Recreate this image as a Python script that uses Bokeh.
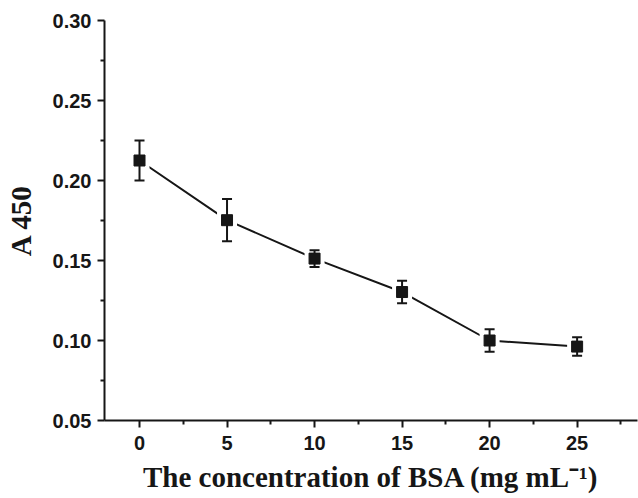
from bokeh.plotting import figure
from bokeh.models import ColumnDataSource, FixedTicker, NumeralTickFormatter, Range1d
from bokeh.embed import file_html
from bokeh.resources import INLINE

# data
bsa_conc = [0, 5, 10, 15, 20, 25]
a450 = [0.2125, 0.1752, 0.1512, 0.1303, 0.1000, 0.0962]
a450_err = [0.0125, 0.0132, 0.0052, 0.0070, 0.0070, 0.0058]

x_ticks = [0, 5, 10, 15, 20, 25]
x_minor = [2.5, 7.5, 12.5, 17.5, 22.5, 27.5]
y_ticks = [0.05, 0.10, 0.15, 0.20, 0.25, 0.30]
y_minor = [0.075, 0.125, 0.175, 0.225, 0.275]

x_label = "The concentration of BSA (mg mL\u207b\u00b9)"
y_label = "A 450"

ink = "#161616"

src = ColumnDataSource(dict(
    x=bsa_conc, y=a450,
    lo=[v - e for v, e in zip(a450, a450_err)],
    hi=[v + e for v, e in zip(a450, a450_err)],
))

p = figure(width=638, height=498, output_backend="svg", toolbar_location=None,
           x_range=Range1d(-2.0, 28.45), y_range=Range1d(0.05, 0.30),
           min_border_left=104, min_border_right=1, min_border_top=20,
           min_border_bottom=78)
p.outline_line_color = None
p.grid.visible = False
p.background_fill_color = "white"
p.border_fill_color = "white"

p.line("x", "y", source=src, line_color=ink, line_width=2)
p.scatter("x", "y", source=src, marker="square", size=20, fill_color="white",
          line_color=None)
p.segment(x0="x", y0="lo", x1="x", y1="hi", source=src, line_color=ink,
          line_width=2)
p.scatter("x", "hi", source=src, marker="dash", size=10, line_color=ink,
          line_width=2)
p.scatter("x", "lo", source=src, marker="dash", size=10, line_color=ink,
          line_width=2)
p.scatter("x", "y", source=src, marker="square", size=11, fill_color=ink,
          line_color=ink)

p.xaxis.ticker = FixedTicker(ticks=x_ticks, minor_ticks=x_minor)
p.yaxis.ticker = FixedTicker(ticks=y_ticks, minor_ticks=y_minor)
p.yaxis.formatter = NumeralTickFormatter(format="0.00")

for ax in (p.xaxis[0], p.yaxis[0]):
    ax.axis_line_width = 2
    ax.axis_line_color = ink
    ax.major_tick_line_color = ink
    ax.major_tick_line_width = 2
    ax.minor_tick_line_color = ink
    ax.minor_tick_line_width = 2
    ax.major_tick_in = 0
    ax.major_tick_out = 7
    ax.minor_tick_in = 0
    ax.minor_tick_out = 4
    ax.major_label_text_font = "Liberation Sans"
    ax.major_label_text_font_style = "bold"
    ax.major_label_text_font_size = "20px"
    ax.major_label_text_color = ink
    ax.axis_label_text_font = "Liberation Serif"
    ax.axis_label_text_font_style = "bold"
    ax.axis_label_text_font_size = "29px"
    ax.axis_label_text_color = ink

p.xaxis.axis_label = x_label
p.yaxis.axis_label = y_label
p.xaxis.major_label_standoff = 8
p.yaxis.major_label_standoff = 6
p.xaxis.axis_label_standoff = 8
p.yaxis.axis_label_standoff = 13

open("out.html", "w").write(file_html(p, INLINE))
